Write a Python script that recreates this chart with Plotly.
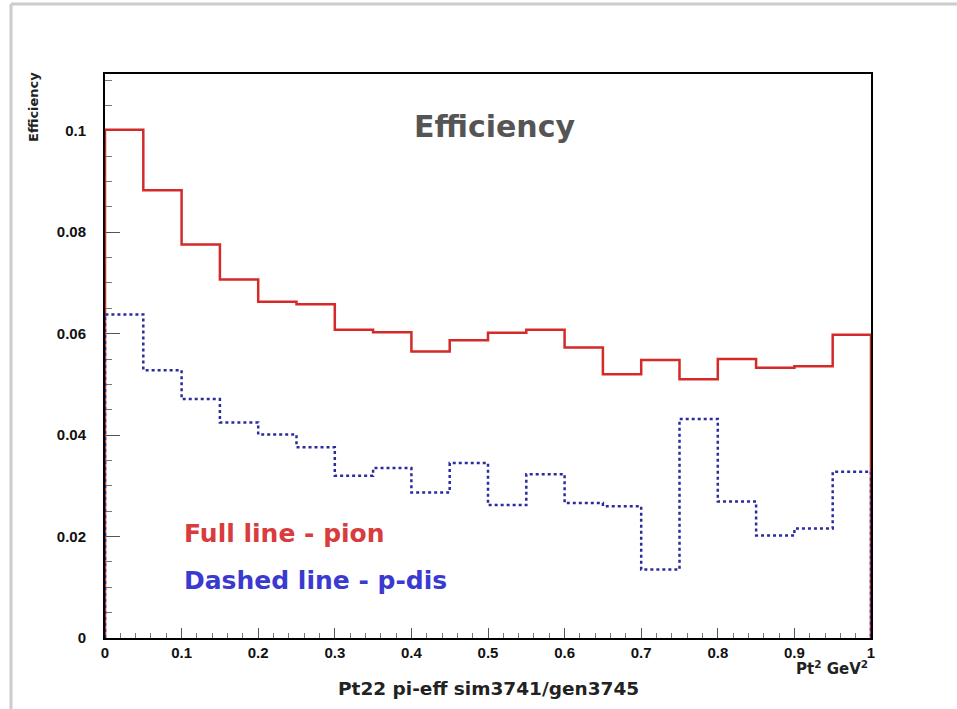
import plotly.graph_objects as go

# bin edges: 20 bins of width 0.05 from 0 to 1
bin_lo = [0.00, 0.05, 0.10, 0.15, 0.20, 0.25, 0.30, 0.35, 0.40, 0.45,
          0.50, 0.55, 0.60, 0.65, 0.70, 0.75, 0.80, 0.85, 0.90, 0.95]
bin_hi_last = 1.0

pion_eff = [0.1002, 0.0883, 0.0776, 0.0707, 0.0663, 0.0658, 0.0608, 0.0603, 0.0565, 0.0587,
            0.0602, 0.0608, 0.0573, 0.0520, 0.0548, 0.0510, 0.0550, 0.0533, 0.0536, 0.0598]
pdis_eff = [0.0638, 0.0528, 0.0471, 0.0425, 0.0401, 0.0376, 0.0320, 0.0335, 0.0287, 0.0345,
            0.0262, 0.0323, 0.0266, 0.0260, 0.0135, 0.0432, 0.0269, 0.0202, 0.0216, 0.0328]

x_ticks = [0, 0.1, 0.2, 0.3, 0.4, 0.5, 0.6, 0.7, 0.8, 0.9, 1]
y_ticks = [0, 0.02, 0.04, 0.06, 0.08, 0.1]


def outline(lo, hi_last, vals):
    xs = [lo[0]] + list(lo) + [hi_last, hi_last]
    ys = [0] + list(vals) + [vals[-1], 0]
    return xs, ys


fig = go.Figure()
px, py = outline(bin_lo, bin_hi_last, pion_eff)
fig.add_trace(go.Scatter(x=px, y=py, mode="lines", line_shape="hv",
                         line=dict(color="#d42a2a", width=2.5), showlegend=False))
bx, by = outline(bin_lo, bin_hi_last, pdis_eff)
fig.add_trace(go.Scatter(x=bx, y=by, mode="lines", line_shape="hv",
                         line=dict(color="#2b2b9e", width=2.5, dash="dot"), showlegend=False))

tickfont = dict(family="Liberation Sans, Arial, sans-serif", size=15, color="#111111", weight="bold")

# plot area targets page x 105..871, y 74..638
W, H = 957, 709
L, T = 105, 74
PW, PH = 766, 564


def xp(px_):
    return (px_ - L) / PW


def yp(py_):
    return (T + PH - py_) / PH


fig.update_layout(
    width=W, height=H,
    margin=dict(l=L, r=W - L - PW, t=T, b=H - T - PH),
    paper_bgcolor="white", plot_bgcolor="white",
    xaxis=dict(range=[0, 1], tickvals=x_ticks, ticks="inside", ticklen=10, tickwidth=1,
               tickcolor="#555555", showline=True, linecolor="black", linewidth=2,
               mirror=True, showgrid=False, zeroline=False, tickfont=tickfont,
               layer="below traces", ticklabelstandoff=0,
               minor=dict(dtick=0.02, ticks="inside", ticklen=5, tickcolor="#777777")),
    yaxis=dict(range=[0, 0.1112], tickvals=y_ticks, ticks="inside", ticklen=15, tickwidth=1,
               tickcolor="#555555", showline=True, linecolor="black", linewidth=2,
               mirror=True, showgrid=False, zeroline=False, tickfont=tickfont,
               layer="below traces", ticklabelstandoff=14,
               minor=dict(dtick=0.005, ticks="inside", ticklen=7, tickcolor="#777777")),
    shapes=[
        dict(type="line", xref="paper", yref="paper", x0=xp(11), x1=xp(960), y0=yp(4), y1=yp(4),
             line=dict(color="#cccccc", width=3)),
        dict(type="line", xref="paper", yref="paper", x0=xp(11), x1=xp(11), y0=yp(712), y1=yp(4),
             line=dict(color="#cccccc", width=3)),
    ],
    annotations=[
        dict(text="Efficiency", xref="paper", yref="paper", x=xp(495), y=yp(126),
             showarrow=False, xanchor="center", yanchor="middle",
             font=dict(family="DejaVu Sans, sans-serif", size=30, color="#555555", weight="bold")),
        dict(text="Full line - pion", xref="paper", yref="paper", x=xp(182), y=yp(533),
             showarrow=False, xanchor="left", yanchor="middle",
             font=dict(family="DejaVu Sans, sans-serif", size=25, color="#d83c3c", weight="bold")),
        dict(text="Dashed line - p-dis", xref="paper", yref="paper", x=xp(182), y=yp(580),
             showarrow=False, xanchor="left", yanchor="middle",
             font=dict(family="DejaVu Sans, sans-serif", size=25, color="#3a3ad0", weight="bold")),
        dict(text="Pt22 pi-eff sim3741/gen3745", xref="paper", yref="paper", x=xp(489),
             y=yp(688), showarrow=False, xanchor="center", yanchor="middle",
             font=dict(family="DejaVu Sans, sans-serif", size=18.5, color="#222222", weight="bold")),
        dict(text="Pt<sup>2</sup> GeV<sup>2</sup>", xref="paper", yref="paper", x=xp(870),
             y=yp(668), showarrow=False, xanchor="right", yanchor="middle",
             font=dict(family="DejaVu Sans, sans-serif", size=15, color="#222222", weight="bold")),
        dict(text="Efficiency", xref="paper", yref="paper", x=xp(34), y=yp(107),
             showarrow=False, xanchor="center", yanchor="middle", textangle=-90,
             font=dict(family="DejaVu Sans, sans-serif", size=13, color="#222222", weight="bold")),
    ],
)

fig.write_html("out.html", config={"displayModeBar": False},
               post_script="document.body.style.margin='0px';")
